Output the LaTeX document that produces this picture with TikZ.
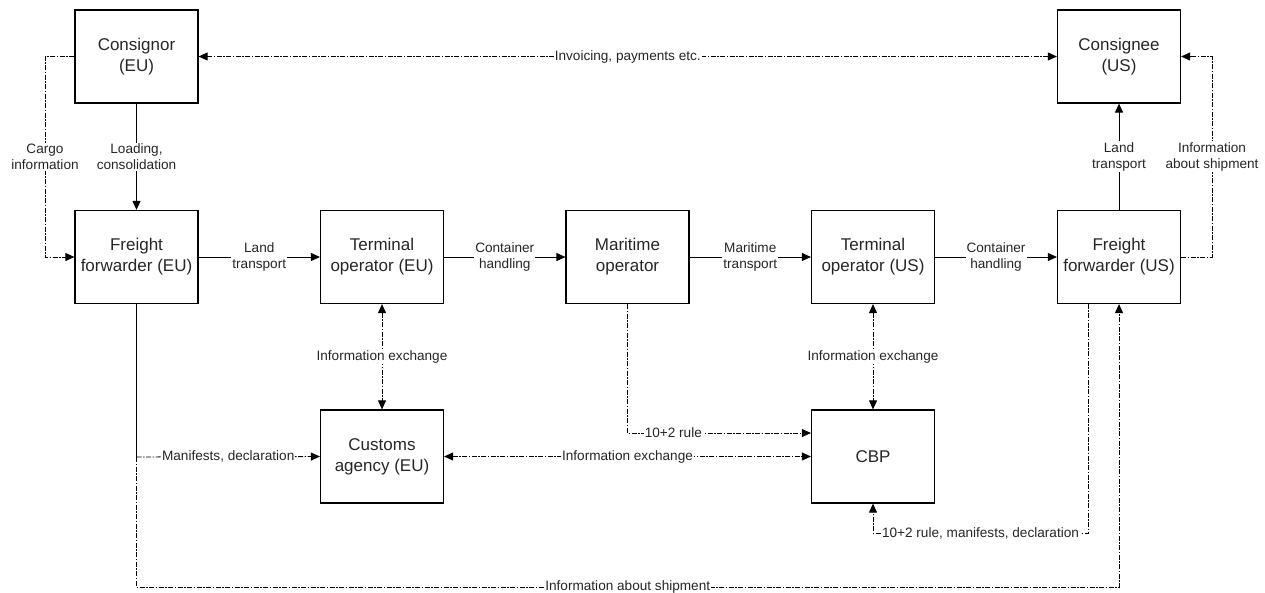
\documentclass[tikz,border=0pt]{standalone}
\usepackage{fontspec}
\setmainfont{Liberation Sans}
\usetikzlibrary{arrows.meta}
\begin{document}
\begin{tikzpicture}[x=1pt,y=-1pt,
  box/.style={draw,line width=1.2pt,minimum width=123pt,minimum height=93pt,font=\fontsize{17}{21}\selectfont,align=center,inner sep=0pt,text=black!85},
  lbl/.style={fill=white,font=\fontsize{13.6}{16}\selectfont,align=center,inner sep=1pt,text=black!85},
  solidflow/.style={line width=1pt,-{Triangle[length=9pt,width=8pt]}},
  info/.style={line width=0.9pt,dash pattern=on 5pt off 1.5pt on 1.5pt off 1.5pt},
  tip/.style={-{Triangle[length=9pt,width=8pt]}},
  both/.style={{Triangle[length=9pt,width=8pt]}-{Triangle[length=9pt,width=8pt]}}]
\useasboundingbox (0,0) rectangle (1265,592);

\node[box] (cons) at (136.5,56.5) {Consignor\\(EU)};
\node[box] (cnee) at (1119,56.5) {Consignee\\(US)};
\node[box] (ffeu) at (136.5,257) {Freight\\forwarder (EU)};
\node[box] (teu) at (382,257) {Terminal\\operator (EU)};
\node[box] (mar) at (627.5,257) {Maritime\\operator};
\node[box] (tus) at (873,257) {Terminal\\operator (US)};
\node[box] (ffus) at (1119,257) {Freight\\forwarder (US)};
\node[box] (cus) at (382,456.5) {Customs\\agency (EU)};
\node[box] (cbp) at (873,456.5) {CBP};

% top
\draw[info,both] (cons.east) -- node[lbl]{Invoicing, payments etc.} (cnee.west);
\draw[info,tip] (cons.west) -- (45,56.5) -- node[lbl]{Cargo\\information} (45,257) -- (ffeu.west);
\draw[solidflow] (cons) -- node[lbl]{Loading,\\consolidation} (ffeu);

% main chain
\draw[solidflow] (ffeu) -- node[lbl]{Land\\transport} (teu);
\draw[solidflow] (teu) -- node[lbl]{Container\\handling} (mar);
\draw[solidflow] (mar) -- node[lbl]{Maritime\\transport} (tus);
\draw[solidflow] (tus) -- node[lbl]{Container\\handling} (ffus);
\draw[solidflow] (ffus) -- node[lbl]{Land\\transport} (cnee);
\draw[info,tip] (ffus.east) -- (1212,257) -- node[lbl]{Information\\about shipment} (1212,56.5) -- (cnee.east);

% information exchange
\draw[info,both] (teu) -- node[lbl]{Information exchange} (cus);
\draw[info,both] (tus) -- node[lbl]{Information exchange} (cbp);
\draw[info,both] (cus) -- node[lbl]{Information exchange} (cbp);

% freight forwarder EU lines
\coordinate (m) at (136.5,457);
\draw[line width=1pt] (ffeu.south) -- (m);
\draw[info,tip] (m) -- node[lbl]{Manifests, declaration} (cus.west);
\draw[info,tip] (m) -- (136.5,587) -- node[lbl]{Information about shipment} (1119,587) -- (ffus.south);

% maritime 10+2
\draw[info,tip] (mar.south) -- (627.5,433) -- node[lbl,pos=0.25]{10+2 rule} (cbp.west |- 0,433);

% freight forwarder US to CBP
\draw[info,tip] (1088,303.5) -- (1088,533) -- node[lbl]{10+2 rule, manifests, declaration} (873,533) -- (cbp.south);
\end{tikzpicture}
\end{document}
